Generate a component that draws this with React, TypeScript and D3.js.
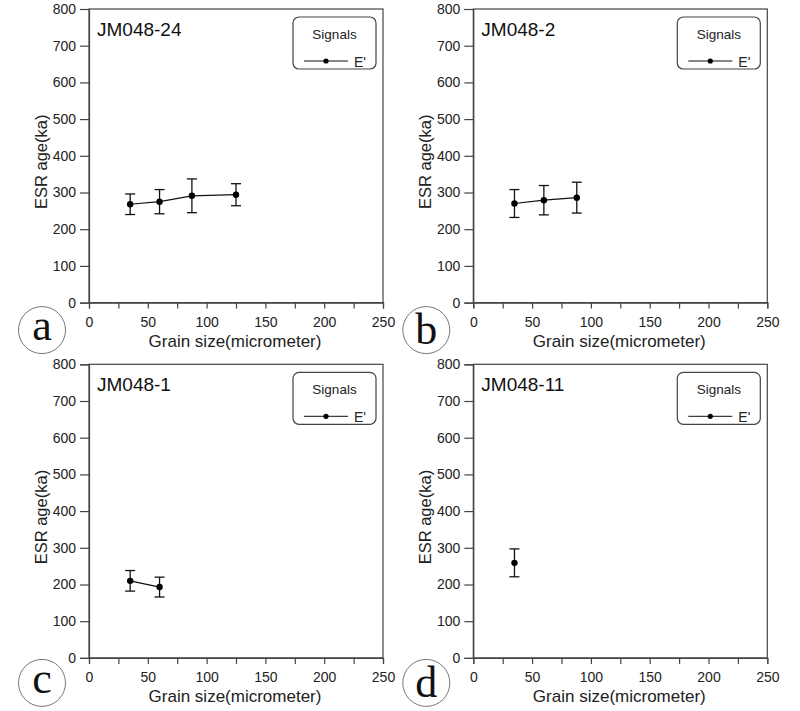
import React, { useEffect, useRef } from 'react';
import * as d3 from 'd3';

// sample names + panel letters
const sampleNames = ['JM048-24', 'JM048-2', 'JM048-1', 'JM048-11'];
const panelLetters = ['a', 'b', 'c', 'd'];

// grain size (micrometer), ESR age (ka) and error (ka) per sample
const grainA = [35, 60, 87.5, 125];
const ageA = [268, 275, 291, 294];
const errA = [28, 33, 46, 30];

const grainB = [35, 60, 88];
const ageB = [270, 279, 286];
const errB = [38, 40, 42];

const grainC = [35, 60];
const ageC = [210, 193];
const errC = [28, 27];

const grainD = [35];
const ageD = [259];
const errD = [38];

const xTicks = [0, 50, 100, 150, 200, 250];
const xMinorTicks = [25, 75, 125, 175, 225];
const yTicks = [0, 100, 200, 300, 400, 500, 600, 700, 800];

const legendTitle = 'Signals';
const legendItem = "E'";
const xTitle = 'Grain size(micrometer)';
const yTitle = 'ESR age(ka)';

const FONT = '"Liberation Sans", Arial, sans-serif';

export default function App() {
  const svgRef = useRef<SVGSVGElement>(null);

  useEffect(() => {
    if (!svgRef.current) return;
    const svg = d3.select(svgRef.current);
    svg.selectAll('*').remove();

    const series = [
      { g: grainA, a: ageA, e: errA },
      { g: grainB, a: ageB, e: errB },
      { g: grainC, a: ageC, e: errC },
      { g: grainD, a: ageD, e: errD },
    ];

    const lefts = [89, 473.3];
    const tops = [9, 364.3];
    const circleDy = [27.5, 25]; // letter badge offset below plot, per row
    const w = 294;
    const h = 293.6;

    series.forEach((s, i) => {
      const left = lefts[i % 2];
      const row = Math.floor(i / 2);
      const top = tops[row];
      const g = svg.append('g').attr('transform', `translate(${left},${top})`);

      const x = d3.scaleLinear().domain([0, 250]).range([0, w]);
      const y = d3.scaleLinear().domain([0, 800]).range([h, 0]);

      // frame
      g.append('rect')
        .attr('width', w).attr('height', h)
        .attr('fill', 'none').attr('stroke', '#444').attr('stroke-width', 1.2);

      // x axis
      g.append('g')
        .attr('transform', `translate(0,${h})`)
        .call(d3.axisBottom(x).tickValues(xMinorTicks).tickSize(6).tickFormat(() => ''))
        .call(a => a.select('.domain').remove())
        .call(a => a.selectAll('.tick line').attr('stroke', '#444').attr('stroke-width', 1.2));
      g.append('g')
        .attr('transform', `translate(0,${h})`)
        .call(d3.axisBottom(x).tickValues(xTicks).tickSize(6).tickPadding(8))
        .call(a => a.select('.domain').attr('stroke', '#444').attr('stroke-width', 1.2))
        .call(a => a.selectAll('.tick line').attr('stroke', '#444').attr('stroke-width', 1.2))
        .call(a => a.selectAll('.tick text').attr('fill', '#222').attr('font-size', '14px').attr('font-family', FONT));

      // y axis
      g.append('g')
        .call(d3.axisLeft(y).tickValues(yTicks).tickSize(9).tickPadding(4))
        .call(a => a.select('.domain').attr('stroke', '#444').attr('stroke-width', 1.2))
        .call(a => a.selectAll('.tick line').attr('stroke', '#444').attr('stroke-width', 1.2))
        .call(a => a.selectAll('.tick text').attr('fill', '#222').attr('font-size', '14px').attr('font-family', FONT));

      // axis titles
      g.append('text')
        .attr('x', 146).attr('y', h + 44)
        .attr('text-anchor', 'middle')
        .attr('font-family', FONT).attr('font-size', '17px').attr('fill', '#222')
        .text(xTitle);
      g.append('text')
        .attr('transform', `translate(-42,${h / 2 + 6}) rotate(-90)`)
        .attr('text-anchor', 'middle')
        .attr('font-family', FONT).attr('font-size', '16.5px').attr('fill', '#222')
        .text(yTitle);

      // sample name
      g.append('text')
        .attr('x', 8).attr('y', 27)
        .attr('font-family', FONT).attr('font-size', '19px').attr('fill', '#111')
        .text(sampleNames[i]);

      // legend
      const lg = g.append('g').attr('transform', 'translate(204,8)');
      lg.append('rect')
        .attr('width', 83).attr('height', 52).attr('rx', 6)
        .attr('fill', 'white').attr('stroke', '#444').attr('stroke-width', 1.2);
      lg.append('text')
        .attr('x', 41.5).attr('y', 22)
        .attr('text-anchor', 'middle')
        .attr('font-family', FONT).attr('font-size', '13.5px').attr('fill', '#222')
        .text(legendTitle);
      lg.append('line')
        .attr('x1', 11).attr('x2', 55).attr('y1', 44).attr('y2', 44)
        .attr('stroke', '#111').attr('stroke-width', 1);
      lg.append('circle').attr('cx', 33).attr('cy', 44).attr('r', 2.6).attr('fill', '#000');
      lg.append('text')
        .attr('x', 61).attr('y', 49.5)
        .attr('font-family', FONT).attr('font-size', '14px').attr('fill', '#222')
        .text(legendItem);

      // data
      const pts = s.g.map((gv, k) => ({ gs: gv, age: s.a[k], err: s.e[k] }));
      const line = d3.line<{ gs: number; age: number }>()
        .x(d => x(d.gs)).y(d => y(d.age));
      g.append('path')
        .datum(pts)
        .attr('d', line)
        .attr('fill', 'none').attr('stroke', '#111').attr('stroke-width', 1.2);

      const eb = g.append('g').selectAll('g').data(pts).enter().append('g');
      eb.append('line')
        .attr('x1', d => x(d.gs)).attr('x2', d => x(d.gs))
        .attr('y1', d => y(d.age - d.err)).attr('y2', d => y(d.age + d.err))
        .attr('stroke', '#111').attr('stroke-width', 1.3);
      [1, -1].forEach(sign => {
        eb.append('line')
          .attr('x1', d => x(d.gs) - 5).attr('x2', d => x(d.gs) + 5)
          .attr('y1', d => y(d.age + sign * d.err)).attr('y2', d => y(d.age + sign * d.err))
          .attr('stroke', '#111').attr('stroke-width', 1.3);
      });
      eb.append('circle')
        .attr('cx', d => x(d.gs)).attr('cy', d => y(d.age))
        .attr('r', 3.2).attr('fill', '#000');

      // panel letter badge
      const cx = -47;
      const cy = h + circleDy[row];
      const tall = panelLetters[i] === 'b' || panelLetters[i] === 'd';
      g.append('circle')
        .attr('cx', cx).attr('cy', cy).attr('r', 23.5)
        .attr('fill', 'white').attr('stroke', '#777').attr('stroke-width', 1);
      g.append('text')
        .attr('x', cx).attr('y', cy + (tall ? 14 : 10))
        .attr('text-anchor', 'middle')
        .attr('font-family', '"Liberation Serif", "DejaVu Serif", serif')
        .attr('font-size', '44px').attr('fill', '#111')
        .text(panelLetters[i]);
    });
  }, []);

  return (
    <div style={{ position: 'absolute', left: 0, top: 0 }}>
      <svg ref={svgRef} width={800} height={711} style={{ display: 'block', background: 'white' }} />
    </div>
  );
}
